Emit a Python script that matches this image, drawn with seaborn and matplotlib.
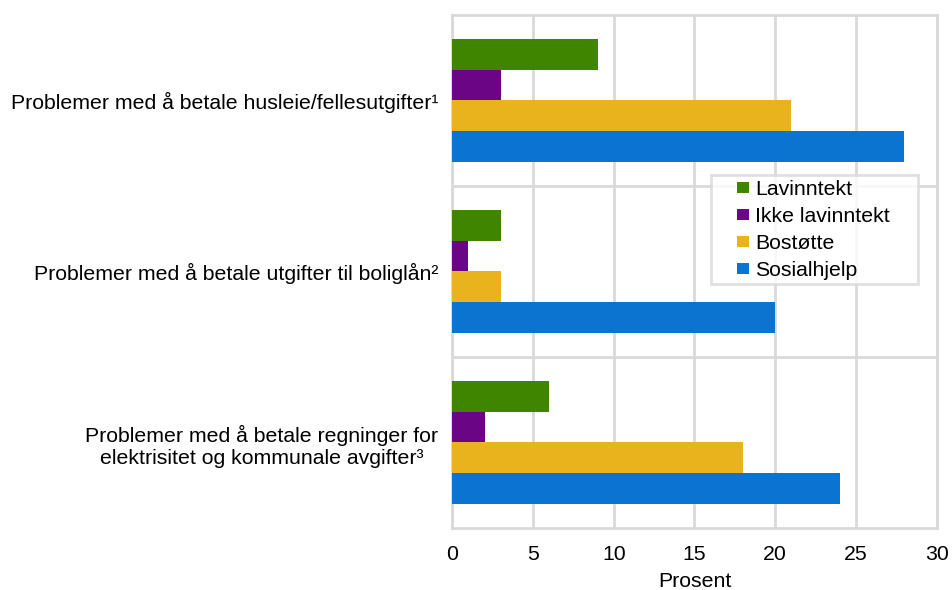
import pandas as pd
import matplotlib
matplotlib.use('Agg')
import matplotlib.pyplot as plt
from matplotlib.patches import Rectangle
from matplotlib.legend_handler import HandlerBase
import seaborn as sns

# data
categories = ['Problemer med å betale husleie/fellesutgifter¹',
              'Problemer med å betale utgifter til boliglån²',
              'Problemer med å betale regninger for\nelektrisitet og kommunale avgifter³']
groups = ['Lavinntekt', 'Ikke lavinntekt', 'Bostøtte', 'Sosialhjelp']
lavinntekt = [9, 3, 6]
ikke_lavinntekt = [3, 1, 2]
bostotte = [21, 3, 18]
sosialhjelp = [28, 20, 24]
colors = ['#3f8500', '#6a0686', '#e9b31e', '#0a74d0']

df = pd.DataFrame({'Lavinntekt': lavinntekt, 'Ikke lavinntekt': ikke_lavinntekt,
                   'Bostøtte': bostotte, 'Sosialhjelp': sosialhjelp}, index=categories)
long_df = df.reset_index().melt(id_vars='index', var_name='gruppe', value_name='prosent')


# small square legend marker pushed to the right side of the handle box
class SquareRight(HandlerBase):
    def create_artists(self, legend, orig_handle, xdescent, ydescent,
                       width, height, fontsize, trans):
        s = 8
        r = Rectangle((width - s - xdescent, (height - s) / 2 - ydescent), s, s,
                      facecolor=orig_handle.get_facecolor(), edgecolor='none',
                      transform=trans)
        return [r]


sns.set_theme(style='white', rc={'text.color': 'black', 'axes.labelcolor': 'black'})
plt.rcParams['font.family'] = ['Liberation Sans', 'DejaVu Sans']

fig = plt.figure(figsize=(9.52, 5.9), dpi=100)
ax = fig.add_axes([0.475, 0.105, 0.509, 0.87])

sns.barplot(data=long_df, y='index', x='prosent', hue='gruppe', hue_order=groups,
            palette=colors, orient='h', width=0.72, saturation=1, linewidth=0,
            ax=ax, zorder=3)

ax.set_xlim(0, 30)
ax.set_xticks(range(0, 31, 5))
ax.set_ylim(2.5, -0.5)
ax.set_yticks([0.5, 1.5], minor=True)
ax.grid(axis='x', which='major', color='#d9d9d9', linewidth=2, zorder=0)
ax.grid(axis='y', which='minor', color='#d9d9d9', linewidth=2, zorder=0)
ax.grid(axis='y', which='major', visible=False)
for s in ax.spines.values():
    s.set_color('#d9d9d9')
    s.set_linewidth(2)
ax.tick_params(axis='both', which='both', length=0, labelsize=15.3, colors='black')
ax.tick_params(axis='y', pad=10)
ax.tick_params(axis='x', pad=12)
for lbl in ax.get_yticklabels():
    lbl.set_multialignment('center')
ax.set_ylabel('')
ax.set_xlabel('Prosent', fontsize=15.3, labelpad=6, color='black')

handles, labels = ax.get_legend_handles_labels()
leg = ax.legend(handles, labels, loc='upper left', mode='expand',
                bbox_to_anchor=(0.534, 0.588, 0.427, 0.1), fontsize=15.3,
                frameon=True, fancybox=False, edgecolor='#d9d9d9',
                handler_map={h: SquareRight() for h in handles},
                handlelength=1.55, handleheight=0.6, handletextpad=0.3,
                labelspacing=0.38, borderpad=0.22, borderaxespad=0)
leg.get_frame().set_linewidth(2)

fig.savefig('out.png', dpi=100)
